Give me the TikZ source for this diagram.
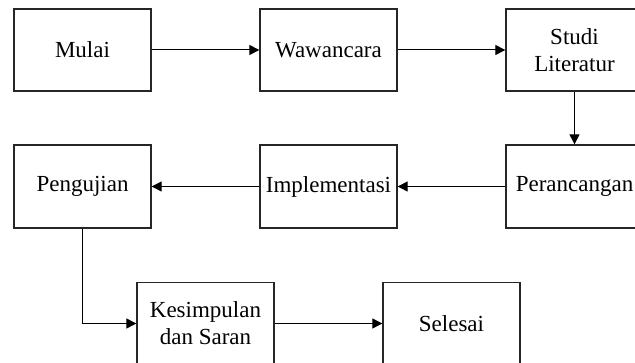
\documentclass[tikz,border=0pt]{standalone}
\usepackage{fontspec}
\setmainfont{Liberation Serif}
\usetikzlibrary{arrows.meta}
\begin{document}
\begin{tikzpicture}[x=1pt,y=-1pt,
  stepbox/.style={draw=black!85,line width=1.3pt,minimum width=137pt,minimum height=82pt,
    inner sep=0pt,align=center,font=\fontsize{23}{27}\selectfont},
  flow/.style={line width=1pt,-{Triangle[length=10pt,width=10pt]}}]
\useasboundingbox (0,0) rectangle (635,363);
\clip (0,0) rectangle (635,363);
\node[stepbox] (mulai) at (82.5,50) {Mulai};
\node[stepbox] (waw) at (328.5,50) {Wawancara};
\node[stepbox] (studi) at (574.5,50) {Studi\\Literatur};
\node[stepbox,minimum height=83pt] (peran) at (574.5,186.5) {Perancangan};
\node[stepbox,minimum height=83pt] (impl) at (328.5,186.5) {Implementasi};
\node[stepbox,minimum height=83pt] (peng) at (82.5,186.5) {Pengujian};
\node[stepbox] (kes) at (205.5,323.5) {Kesimpulan\\dan Saran};
\node[stepbox] (sel) at (451.5,323.5) {Selesai};
\draw[flow] (mulai) -- (waw);
\draw[flow] (waw) -- (studi);
\draw[flow] (studi) -- (peran);
\draw[flow] (peran) -- (impl);
\draw[flow] (impl) -- (peng);
\draw[flow] (peng.south) |- (kes.west);
\draw[flow] (kes) -- (sel);
\end{tikzpicture}
\end{document}
